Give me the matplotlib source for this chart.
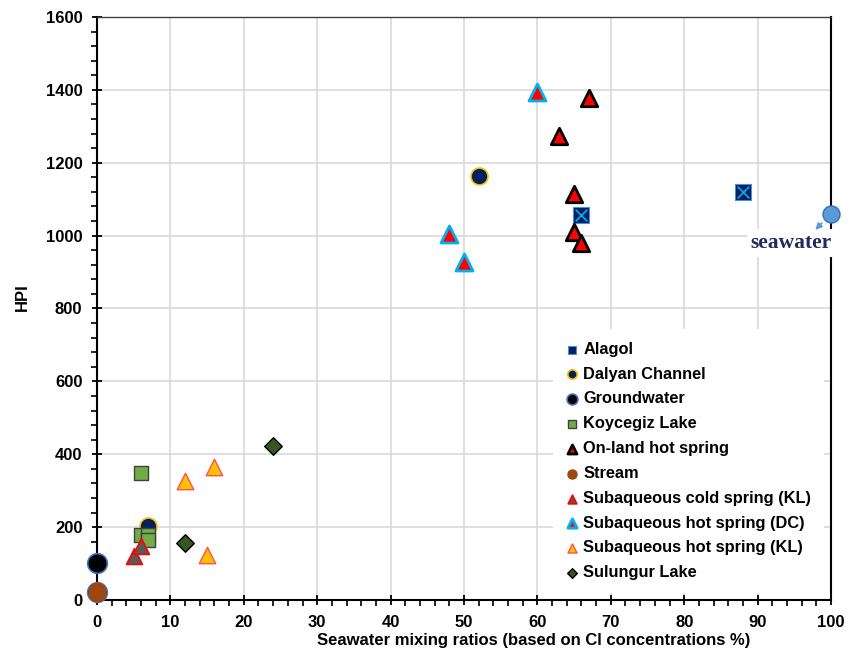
"""HPI vs seawater mixing ratio scatter."""

import matplotlib
matplotlib.use("Agg")
import matplotlib.pyplot as plt
from matplotlib.ticker import MultipleLocator

plt.rcParams["font.family"] = ["Liberation Sans", "DejaVu Sans"]
plt.rcParams["font.weight"] = "bold"

# values (x = seawater mixing %, y = HPI)
alagol_x = [66, 88]
alagol_y = [1056, 1120]
dalyan_x = [52, 7]
dalyan_y = [1163, 203]
ground_x = [0, 0]
ground_y = [102, 22]
koyc_x = [6, 6, 7, 7]
koyc_y = [348, 178, 178, 165]
onland_x = [67, 63, 65, 65, 66]
onland_y = [1377, 1272, 1114, 1011, 981]
stream_x = [0, 0]
stream_y = [25, 18]
cold_kl_x = [5, 6]
cold_kl_y = [121, 149]
hot_dc_x = [60, 48, 50]
hot_dc_y = [1395, 1004, 928]
hot_kl_x = [12, 16, 15]
hot_kl_y = [327, 366, 124]
sulun_x = [24, 12]
sulun_y = [423, 157]
sea_x = [100]
sea_y = [1058]

series = [
    ("Alagol", alagol_x, alagol_y, None),
    ("Dalyan Channel", dalyan_x, dalyan_y, dict(marker="o", s=150, c="#002060", edgecolors="#FFC000", linewidths=1.2)),
    ("Groundwater", ground_x, ground_y, dict(marker="o", s=200, c="black", edgecolors="#4472C4", linewidths=1.2)),
    ("Koycegiz Lake", koyc_x, koyc_y, dict(marker="s", s=110, c="#70AD47", edgecolors="#404040", linewidths=1.0)),
    ("On-land hot spring", onland_x, onland_y, dict(marker="^", s=140, c="#FF0000", edgecolors="black", linewidths=2.0)),
    ("Stream", stream_x, stream_y, dict(marker="o", s=140, c="#9E480E", edgecolors="#9E480E", linewidths=1.0)),
    ("Subaqueous cold spring (KL)", cold_kl_x, cold_kl_y, dict(marker="^", s=130, c="#595959", edgecolors="#FF0000", linewidths=1.2)),
    ("Subaqueous hot spring (DC)", hot_dc_x, hot_dc_y, dict(marker="^", s=150, c="#FF0000", edgecolors="#00B0F0", linewidths=2.0)),
    ("Subaqueous hot spring (KL)", hot_kl_x, hot_kl_y, dict(marker="^", s=140, c="#FFC000", edgecolors="#FF5050", linewidths=1.0)),
    ("Sulungur Lake", sulun_x, sulun_y, dict(marker="D", s=80, c="#375623", edgecolors="black", linewidths=1.0)),
]

fig = plt.figure(figsize=(8.6, 6.53), dpi=100)
ax = fig.add_axes([0.1128, 0.0812, 0.8535, 0.8928])

handles = []
for name, xs, ys, kw in series:
    if kw is None:
        # navy square with a light-blue cross on top
        h = ax.scatter(xs, ys, marker="s", s=120, c="#002060", edgecolors="#4A90D9",
                       linewidths=0.8, zorder=3, label=name)
        ax.scatter(xs, ys, marker="x", s=70, c="#00B0F0", linewidths=1.2, zorder=4)
    else:
        h = ax.scatter(xs, ys, zorder=3, label=name, clip_on=False, **kw)
    handles.append(h)

ax.scatter(sea_x, sea_y, marker="o", s=150, c="#5B9BD5", edgecolors="#2E75B6",
           linewidths=1.0, zorder=5, clip_on=False)
ax.annotate("", xy=(97.6, 1010), xytext=(99.0, 1040),
            arrowprops=dict(arrowstyle="-|>", color="#5B9BD5", lw=1.3, mutation_scale=9),
            zorder=5)
ax.text(94.6, 980, "seawater", family=["Liberation Serif", "DejaVu Serif"],
        fontsize=15.5, fontweight="bold", color="#1F2A60", ha="center", va="center",
        bbox=dict(facecolor="white", edgecolor="none", pad=3), zorder=4)

ax.set_xlim(0, 100)
ax.set_ylim(0, 1600)
ax.xaxis.set_major_locator(MultipleLocator(10))
ax.xaxis.set_minor_locator(MultipleLocator(2))
ax.yaxis.set_major_locator(MultipleLocator(200))
ax.yaxis.set_minor_locator(MultipleLocator(40))
ax.grid(True, which="major", color="#D9D9D9", lw=1.2, zorder=0)
ax.set_axisbelow(True)

for side in ["left", "bottom", "right", "top"]:
    ax.spines[side].set_linewidth(1.5)
    ax.spines[side].set_color("black")
ax.spines["top"].set_linewidth(1.0)
ax.spines["top"].set_color("#404040")

ax.tick_params(which="major", direction="inout", length=7, width=1.3, pad=7)
ax.tick_params(which="minor", direction="out", length=4, width=1.2)
ax.tick_params(top=False, right=False, which="both")

for lab in ax.get_xticklabels() + ax.get_yticklabels():
    lab.set_fontweight("bold")
    lab.set_fontsize(12)

ax.set_xlabel("Seawater mixing ratios (based on Cl concentrations %)",
              fontsize=12, fontweight="bold")
ax.xaxis.set_label_coords(0.595, -0.056)
ax.set_ylabel("HPI", fontsize=12, fontweight="bold")
ax.yaxis.set_label_coords(-0.092, 0.52)

leg = ax.legend(handles=handles, loc="lower right", bbox_to_anchor=(1.0, 0.0),
                frameon=True, framealpha=1.0, edgecolor="none", fontsize=11.8,
                markerscale=0.55, handlelength=0.7, handletextpad=0.35,
                labelspacing=0.6, borderpad=0.8, borderaxespad=0.4)
leg.set_zorder(6)
for t in leg.get_texts():
    t.set_fontweight("bold")

fig.savefig("out.png", dpi=100)
